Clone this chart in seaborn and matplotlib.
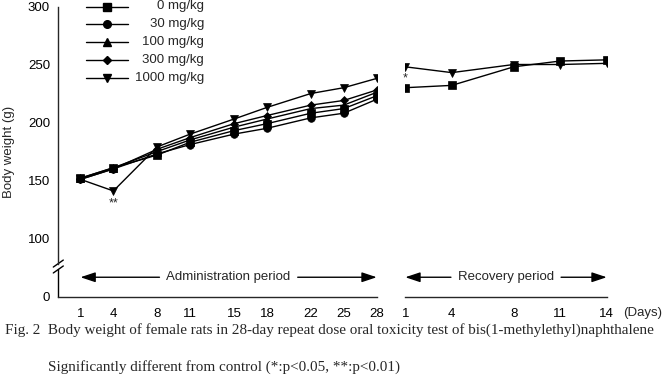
import numpy as np
import pandas as pd
import matplotlib
matplotlib.use("Agg")
import matplotlib.pyplot as plt
import seaborn as sns

# ---------------- data ----------------
admin_days = [1, 4, 8, 11, 15, 18, 22, 25, 28]
rec_days = [1, 4, 8, 11, 14]
doses = ["0 mg/kg", "30 mg/kg", "100 mg/kg", "300 mg/kg", "1000 mg/kg"]
w0 = [152, 161, 172, 183, 193, 199, 208, 212, 223]
w30 = [151, 160, 173, 181, 190, 195, 204, 208, 220]
w100 = [152, 161, 175, 185, 196, 203, 212, 215, 226]
w300 = [151, 160, 177, 187, 199, 206, 215, 219, 228]
w1000 = [151, 141, 179, 190, 203, 213, 225, 230, 238]
rec0 = [230, 232, 248, 253, 254]
rec1000 = [248, 243, 250, 250, 251]
ytick_vals = [50, 100, 150, 200, 250, 300]
ytick_labels = ["0", "100", "150", "200", "250", "300"]
markers = {"0 mg/kg": "s", "30 mg/kg": "o", "100 mg/kg": "^",
           "300 mg/kg": "D", "1000 mg/kg": "v"}
msizes = {"0 mg/kg": 5.5, "30 mg/kg": 5.5, "100 mg/kg": 5.5,
          "300 mg/kg": 4.2, "1000 mg/kg": 5.8}

admin = pd.DataFrame({
    "day": admin_days * 5,
    "weight": w0 + w30 + w100 + w300 + w1000,
    "dose": sum([[d] * len(admin_days) for d in doses], []),
})
rec = pd.DataFrame({
    "day": rec_days * 2,
    "weight": rec0 + rec1000,
    "dose": [doses[0]] * len(rec_days) + [doses[4]] * len(rec_days),
})

sns.set_style("white")
plt.rcParams["font.family"] = ["Liberation Sans", "DejaVu Sans"]
plt.rcParams["font.size"] = 9.5

W, H = 666, 379
fig = plt.figure(figsize=(W / 100, H / 100), dpi=100)
ax_bot, ax_top = 296.5, 6.5
ax1 = fig.add_axes([58.3 / W, 1 - ax_bot / H, 318.4 / W, (ax_bot - ax_top) / H])
ax2 = fig.add_axes([405.3 / W, 1 - ax_bot / H, 201.4 / W, (ax_bot - ax_top) / H])

lw = 1.0
for ax, df, order in [(ax1, admin, doses), (ax2, rec, [doses[0], doses[4]])]:
    sns.lineplot(data=df, x="day", y="weight", hue="dose", style="dose",
                 hue_order=order, style_order=order,
                 palette=["black"] * len(order), markers=markers, dashes=False,
                 markeredgecolor="black", markeredgewidth=0.5,
                 linewidth=lw, legend=False, ax=ax, sort=False)
    for line, d in zip(ax.lines, order):
        line.set_markersize(msizes[d])
    ax.set_ylim(50, 300)
    ax.set_xlabel("")
    ax.set_ylabel("")
    for s in ["top", "right"]:
        ax.spines[s].set_visible(False)
    ax.spines["bottom"].set_linewidth(lw)
    ax.spines["left"].set_linewidth(lw)
    ax.tick_params(axis="x", direction="in", length=4, width=lw, pad=8,
                   labelsize=9.5, colors="black")
    ax.set_facecolor("none")

ax1.set_xlim(-1.02, 28)
ax1.set_xticks(admin_days)
ax1.spines["bottom"].set_bounds(-1.02, 28)
ax2.set_xlim(1, 14)
ax2.set_xticks(rec_days)
ax2.spines["left"].set_visible(False)
ax2.set_yticks([])

ax1.set_yticks(ytick_vals)
ax1.set_yticklabels(ytick_labels)
ax1.tick_params(axis="y", direction="out", length=4, width=lw, pad=2,
                labelsize=9.5, colors="black")
ax1.set_ylabel("Body weight (g)", fontsize=9.5)
ax1.yaxis.set_label_coords(-0.135, 0.5)

# y-axis break
brk_hi, brk_lo = 78.4, 73.3
ax1.spines["left"].set_bounds(brk_hi, 300)
ax1.plot([-1.02, -1.02], [50, brk_lo], color="black", lw=lw, clip_on=False)
dx, dy = 5 / 318.4, 3.5 / 290
for yv in (brk_hi, brk_lo):
    yf = (yv - 50) / 250
    ax1.plot([-dx, dx], [yf - dy, yf + dy], transform=ax1.transAxes,
             color="black", lw=lw, clip_on=False)

# significance marks
ax1.annotate("**", xy=(admin_days[1], w1000[1]), xytext=(0, -5),
             textcoords="offset points", ha="center", va="top", fontsize=9)
ax2.annotate("*", xy=(rec_days[0], rec1000[0]), xytext=(0, -4),
             textcoords="offset points", ha="center", va="top", fontsize=9)

# period arrows
arrow_y = 66.6
fig.canvas.draw()
renderer = fig.canvas.get_renderer()
for ax, days, label in [(ax1, admin_days, "Administration period"),
                        (ax2, rec_days, "Recovery period")]:
    xc = (days[0] + days[-1]) / 2
    t = ax.text(xc, arrow_y, label, ha="center", va="center", fontsize=9.5)
    bb = t.get_window_extent(renderer=renderer)
    inv = ax.transData.inverted()
    xl = inv.transform((bb.x0 - 7, 0))[0]
    xr = inv.transform((bb.x1 + 7, 0))[0]
    style = "-|>,head_length=0.9,head_width=0.3"
    ax.annotate("", xy=(days[0], arrow_y), xytext=(xl, arrow_y),
                arrowprops=dict(arrowstyle=style, color="black", lw=lw,
                                shrinkA=0, shrinkB=0, mutation_scale=10))
    ax.annotate("", xy=(days[-1], arrow_y), xytext=(xr, arrow_y),
                arrowprops=dict(arrowstyle=style, color="black", lw=lw,
                                shrinkA=0, shrinkB=0, mutation_scale=10))

fig.text(623 / W, 1 - 313 / H, "(Days)", ha="left", va="center", fontsize=9.5)

# legend (manual, right-aligned labels)
leg_x0, leg_x1, leg_xm, leg_xt = 0.087, 0.219, 0.152, 0.458
leg_y = [1.0, 0.938, 0.876, 0.814, 0.752]
for d, yf in zip(doses, leg_y):
    ax1.plot([leg_x0, leg_x1], [yf, yf], transform=ax1.transAxes, color="black",
             lw=lw, clip_on=False)
    ax1.plot([leg_xm], [yf], transform=ax1.transAxes, marker=markers[d],
             ms=msizes[d], color="black", clip_on=False)
    ax1.text(leg_xt, yf, d, transform=ax1.transAxes, ha="right", va="center",
             fontsize=9.5)

serif = ["Liberation Serif", "DejaVu Serif"]
fig.text(5 / W, 1 - 334 / H,
         "Fig. 2  Body weight of female rats in 28-day repeat dose oral toxicity test of bis(1-methylethyl)naphthalene",
         ha="left", va="baseline", fontsize=10.9, family=serif)
fig.text(48 / W, 1 - 371 / H,
         "Significantly different from control (*:p<0.05, **:p<0.01)",
         ha="left", va="baseline", fontsize=10.9, family=serif)

fig.savefig("out.png", dpi=100, facecolor="white")
